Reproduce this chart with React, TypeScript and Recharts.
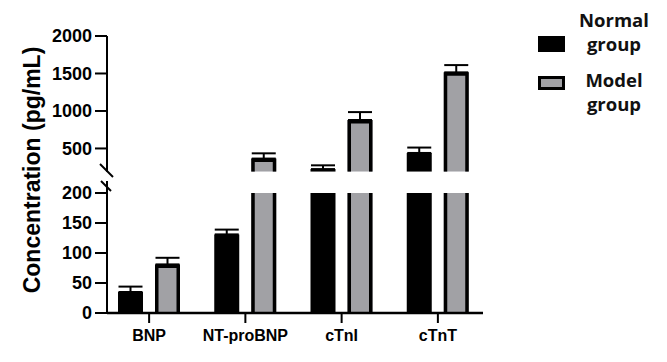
import React from 'react'
import { BarChart, Bar, XAxis, YAxis, ErrorBar } from 'recharts'

const categories = ['BNP', 'NT-proBNP', 'cTnI', 'cTnT']
const normalMean = [35, 131, 225, 440]
const normalErr = [9, 8, 50, 72]
const modelMean = [81, 365, 880, 1515]
const modelErr = [11, 70, 105, 97]

const lowerTicks = [0, 50, 100, 150, 200]
const upperTicks = [500, 1000, 1500, 2000]
const lowerMax = 200
const upperMin = 190

const GRAY = '#a1a1a5'
const FONT = '"Liberation Sans", Arial, sans-serif'

// lower segment: bars are clipped at 200, error bars only when the mean fits
const lowerData = categories.map((name, i) => ({
  name,
  normal: normalMean[i],
  model: modelMean[i],
  normalErr: normalMean[i] <= lowerMax ? [0, normalErr[i]] : null,
  modelErr: modelMean[i] <= lowerMax ? [0, modelErr[i]] : null,
}))

// upper segment: only values above the break
const upperData = categories.map((name, i) => ({
  name,
  normal: normalMean[i] > lowerMax ? normalMean[i] : null,
  model: modelMean[i] > lowerMax ? modelMean[i] : null,
  normalErr: normalMean[i] > lowerMax ? [0, normalErr[i]] : null,
  modelErr: modelMean[i] > lowerMax ? [0, modelErr[i]] : null,
}))

const ModelBar = (props: any) => {
  const { x, y, width, height } = props
  if (!height || height <= 0) return null
  const sw = 3.5
  const l = x + sw / 2
  const r = x + width - sw / 2
  const t = y + sw / 2
  const b = y + height
  return (
    <g>
      <rect x={x} y={y} width={width} height={height} fill={GRAY} />
      <path d={`M${l},${b} L${l},${t} L${r},${t} L${r},${b}`} fill="none" stroke="#000" strokeWidth={sw} />
    </g>
  )
}

const LegendBox = () => (
  <div style={{ position: 'absolute', left: 538, top: 0, width: 130, fontFamily: '"Open Sans", "Noto Sans", sans-serif', fontWeight: 700, fontSize: 18.5, color: '#111' }}>
    <div style={{ position: 'relative', height: 60 }}>
      <div style={{ position: 'absolute', left: 0, top: 36, width: 27, height: 16, background: '#000' }} />
      <div style={{ position: 'absolute', left: 36, top: 8, width: 80, textAlign: 'center', lineHeight: '24px' }}>
        Normal<br />group
      </div>
    </div>
    <div style={{ position: 'relative', height: 60 }}>
      <div style={{ position: 'absolute', left: 0, top: 16, width: 27, height: 14, boxSizing: 'border-box', border: '3.5px solid #000', background: GRAY }} />
      <div style={{ position: 'absolute', left: 36, top: 8, width: 80, textAlign: 'center', lineHeight: '24px' }}>
        Model<br />group
      </div>
    </div>
  </div>
)

const tickStyle = { fontFamily: FONT, fontWeight: 700, fontSize: 18, fill: '#000' }
const axisLine = { stroke: '#000', strokeWidth: 2 }

export default function App() {
  const chartProps = {
    width: 667,
    barSize: 25,
    barGap: 12,
  }
  return (
    <div style={{ position: 'absolute', left: 0, top: 0, width: 667, height: 362, background: '#fff' }}>
      {/* upper segment, 190 - 2000 */}
      <div style={{ position: 'absolute', left: 0, top: 0 }}>
        <BarChart {...chartProps} height={180} data={upperData} margin={{ top: 36, right: 184, bottom: 8.3, left: 0 }}>
          <XAxis dataKey="name" hide padding={{ left: -6, right: -3 }} />
          <YAxis
            width={107}
            domain={[upperMin, 2000]}
            ticks={upperTicks}
            allowDataOverflow
            tickSize={12}
            tickMargin={3}
            axisLine={axisLine}
            tickLine={axisLine}
            tick={tickStyle}
          />
          <Bar dataKey="normal" fill="#000" isAnimationActive={false}>
            <ErrorBar dataKey="normalErr" width={12} strokeWidth={2} stroke="#000" direction="y" isAnimationActive={false} />
          </Bar>
          <Bar dataKey="model" fill={GRAY} shape={<ModelBar />} isAnimationActive={false}>
            <ErrorBar dataKey="modelErr" width={12} strokeWidth={2} stroke="#000" direction="y" isAnimationActive={false} />
          </Bar>
        </BarChart>
      </div>

      {/* lower segment, 0 - 200 */}
      <div style={{ position: 'absolute', left: 0, top: 0 }}>
        <BarChart {...chartProps} height={362} data={lowerData} margin={{ top: 193, right: 184, bottom: 19, left: 0 }}>
          <XAxis
            dataKey="name"
            height={30}
            padding={{ left: -6, right: -3 }}
            tickSize={10}
            tickMargin={7}
            axisLine={{ stroke: '#000', strokeWidth: 2.5 }}
            tickLine={axisLine}
            tick={{ ...tickStyle, fontSize: 16 }}
          />
          <YAxis
            width={107}
            domain={[0, lowerMax]}
            ticks={lowerTicks}
            allowDataOverflow
            tickSize={12}
            tickMargin={3}
            axisLine={axisLine}
            tickLine={axisLine}
            tick={tickStyle}
          />
          <Bar dataKey="normal" fill="#000" isAnimationActive={false}>
            <ErrorBar dataKey="normalErr" width={12} strokeWidth={2} stroke="#000" direction="y" isAnimationActive={false} />
          </Bar>
          <Bar dataKey="model" fill={GRAY} shape={<ModelBar />} isAnimationActive={false}>
            <ErrorBar dataKey="modelErr" width={12} strokeWidth={2} stroke="#000" direction="y" isAnimationActive={false} />
          </Bar>
        </BarChart>
      </div>

      <LegendBox />

      {/* axis break marks and the shared y label */}
      <svg width={667} height={362} style={{ position: 'absolute', left: 0, top: 0, pointerEvents: 'none' }}>
        <line x1={107} y1={181} x2={107} y2={194} stroke="#000" strokeWidth={2} />
        <line x1={100} y1={164} x2={113} y2={177} stroke="#000" strokeWidth={2} />
        <line x1={101} y1={181} x2={111} y2={191} stroke="#000" strokeWidth={2} />
        <text
          x={0}
          y={0}
          transform="translate(40,170) rotate(-90)"
          textAnchor="middle"
          style={{ fontFamily: FONT, fontWeight: 700, fontSize: 23, fill: '#000' }}
        >
          Concentration (pg/mL)
        </text>
      </svg>
    </div>
  )
}
